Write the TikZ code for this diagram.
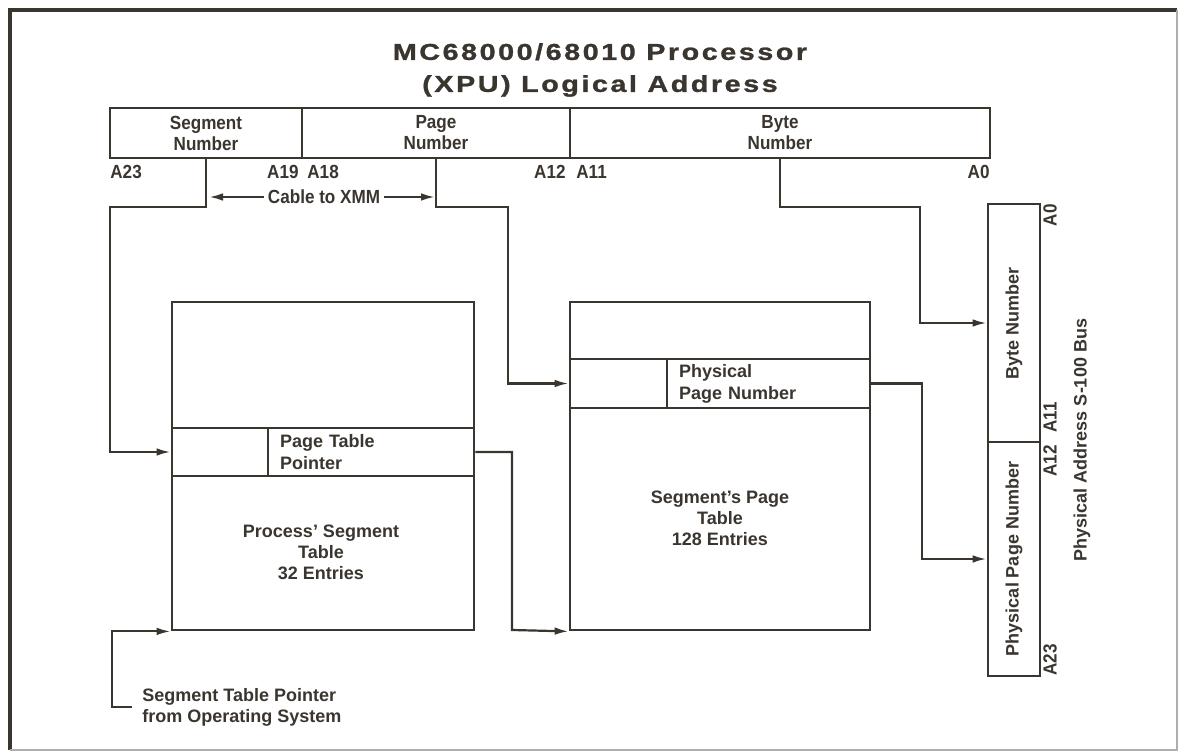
\documentclass[tikz,border=0pt]{standalone}
\usepackage{fontspec}
\setmainfont{Liberation Sans}
\newfontfamily\titlefont{Liberation Sans Bold}[FakeStretch=1.25,LetterSpace=11,FakeBold=1.2]
\newfontfamily\narrowfont{Liberation Sans Bold}[FakeStretch=0.9]
\usetikzlibrary{arrows.meta}
\definecolor{ink}{RGB}{58,53,47}

\begin{document}
\begin{tikzpicture}[x=0.5pt,y=-0.5pt,ink,
	>={Latex[length=7pt,width=3.8pt]},
	field/.style={draw, line width=1.4pt, minimum height=25pt, inner sep=0pt,
		align=center, font=\narrowfont\fontsize{9.5}{10.5}\selectfont},
	tab/.style={draw, line width=1.4pt, inner sep=0pt},
	cell/.style={align=left, inner xsep=6pt,
		font=\bfseries\fontsize{9}{11}\selectfont},
	lab/.style={align=center, inner sep=2pt, font=\bfseries\fontsize{9}{10.5}\selectfont},
	addr/.style={inner sep=0pt, font=\narrowfont\fontsize{9.5}{10.5}\selectfont},
	conn/.style={line width=1.1pt}]
\useasboundingbox (0,0) rectangle (1180,753);
% Rahmen
\draw[line width=2pt] (10,750) -- (10,10) -- (1177,10);
\draw[line width=0.6pt, ink!40] (1177,10) -- (1177,750) -- (10,750);
% Titel
\node[align=center, font=\titlefont\fontsize{11.5}{16}\selectfont] (title)
	at (600,70) {MC68000/68010 Processor\\(XPU) Logical Address};
% logische Adresse
\node[field, minimum width=96pt] (segf) at (206,133) {Segment\\Number};
\node[field, minimum width=134pt] (pagef) at (436,133) {Page\\Number};
\node[field, minimum width=210pt] (bytef) at (780,133) {Byte\\Number};
\foreach \lab/\x/\anc in {A23/110/west,A19/299/east,A18/307/west,
	A12/566/east,A11/576/west,A0/990/east}
\node[addr, anchor=\anc] (l\lab) at (\x,172) {\lab};
% Kabel
\node[lab, font=\narrowfont\fontsize{9.5}{10.5}\selectfont] (cable)
	at (324,197) {Cable to XMM};
\coordinate (cablel) at (209,197);
\coordinate (cabler) at (435,197);
\draw[conn,->] (cable.west) -- (cablel);
\draw[conn,->] (cable.east) -- (cabler);
% Segmenttabelle
\node[tab, minimum width=151pt, minimum height=164pt] (segtab) at (323,466) {};
\node[tab, minimum width=48pt, minimum height=24pt] (ptrkey) at (220,452) {};
\node[tab, cell, text width=91pt, minimum height=24pt] (ptrval) at (371,452)
	{Page Table\\Pointer};
\node[lab] (segtxt) at (321,552) {Process' Segment\\Table\\32 Entries};
% Seitentabelle
\node[tab, minimum width=150pt, minimum height=164pt] (pgtab) at (720,466) {};
\node[tab, minimum width=48.5pt, minimum height=24.5pt] (pnkey) at (618.5,383.5) {};
\node[tab, cell, text width=89.5pt, minimum height=24.5pt] (pnval) at (768.5,383.5)
	{Physical\\Page Number};
\node[lab] (pgtxt) at (720,518) {Segment's Page\\Table\\128 Entries};
% physikalische Adresse
\node[tab, minimum width=26pt, minimum height=119pt] (pbyte) at (1014,323) {};
\node[tab, minimum width=26pt, minimum height=117pt] (ppage) at (1014,559) {};
\node[lab, rotate=90] (pbytetxt) at (pbyte) {Byte Number};
\node[lab, rotate=90] (ppagetxt) at (ppage) {Physical Page Number};
\node[addr, rotate=90, anchor=east] (rA0) at (1050,204) {A0};
\node[addr, rotate=90, anchor=west] (rA11) at (1050,433) {A11};
\node[addr, rotate=90, anchor=east] (rA12) at (1050,445) {A12};
\node[addr, rotate=90, anchor=west] (rA23) at (1050,676) {A23};
\node[lab, rotate=90] (bus) at (1082,440) {Physical Address S-100 Bus};
% Zeiger vom Betriebssystem
\node[lab, anchor=west, align=left, inner xsep=5pt] (ospt) at (132,707)
	{Segment Table Pointer\\from Operating System};
% Verbindungen
\coordinate (segbend) at (110,207);
\coordinate (pgbend) at (508,207);
\coordinate (bybend) at (920,207);
\coordinate (ptbend) at (512,630);
\coordinate (ppbend) at (922,559);
\coordinate (oscorner) at (112,707);
\draw[conn,->] (segf.south) |- (segbend) |- (ptrkey.west);
\draw[conn,->] (pagef.south) |- (pgbend) |- (pnkey.west);
\draw[conn,->] (bytef.south) |- (bybend) |- (pbyte.west);
\draw[conn,->] (ptrval.east) -| (ptbend) -- (pgtab.south west);
\draw[conn,->] (pnval.east) -| (ppbend) -- (ppage.west);
\draw[conn,->] (ospt.west) -- (oscorner) |- (segtab.south west);
\end{tikzpicture}
\end{document}
